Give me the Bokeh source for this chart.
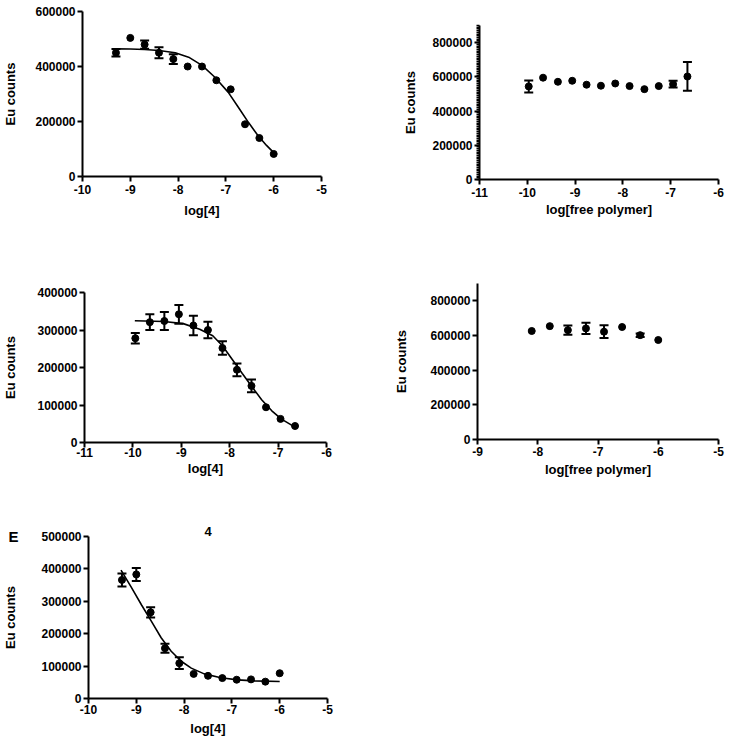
from bokeh.plotting import figure
from bokeh.models import (Range1d, SingleIntervalTicker, ColumnDataSource, Whisker,
                          TeeHead, Title, PrintfTickFormatter)
from bokeh.layouts import column, row
from bokeh.embed import file_html
from bokeh.resources import INLINE

FONT = "Liberation Sans"

# ---------------- data ----------------
# Panel A  (log[4])
a_x = [-9.3, -9.0, -8.7, -8.4, -8.1, -7.8, -7.5, -7.2, -6.9, -6.6, -6.3, -6.0]
a_y = [450000, 504000, 480000, 450000, 427000, 400000, 400000, 350000, 317000, 190000, 140000, 82000]
a_err = [14000, 0, 15000, 20000, 18000, 0, 0, 0, 0, 0, 0, 0]
a_fit_x = [-9.31, -9.0, -8.7, -8.4, -8.06, -7.78, -7.5, -7.23, -6.95, -6.74, -6.53, -6.33, -6.15, -5.99]
a_fit_y = [464000, 463500, 462000, 458000, 450000, 434000, 404000, 361000, 306000, 252000, 197000, 149000, 113000, 85000]

# Panel B  (log[free polymer])
b_x = [-9.97, -9.67, -9.36, -9.06, -8.76, -8.46, -8.16, -7.86, -7.55, -7.25, -6.95, -6.65]
b_y = [544000, 595000, 571000, 577000, 554000, 548000, 561000, 546000, 528000, 546000, 557000, 602000]
b_err = [35000, 0, 0, 0, 0, 0, 0, 0, 0, 0, 20000, 84000]

# Panel C  (log[4])
c_x = [-9.95, -9.65, -9.35, -9.05, -8.75, -8.45, -8.15, -7.85, -7.55, -7.25, -6.95, -6.65]
c_y = [278000, 321000, 324000, 342000, 312000, 300000, 252000, 194000, 151000, 94000, 63000, 44000]
c_err = [14000, 21000, 24000, 25000, 26000, 22000, 18000, 17000, 17000, 0, 0, 0]
c_fit_x = [-9.96, -9.36, -8.96, -8.62, -8.35, -8.15, -7.95, -7.74, -7.54, -7.34, -7.13, -6.93, -6.73, -6.63]
c_fit_y = [324500, 322700, 317000, 302000, 284500, 258000, 222000, 184000, 148500, 114000, 84500, 62400, 47000, 42000]

# Panel D  (log[free polymer])
d_x = [-8.1, -7.8, -7.5, -7.2, -6.9, -6.6, -6.3, -6.0]
d_y = [626000, 654000, 631000, 641000, 622000, 649000, 602000, 574000]
d_err = [0, 0, 26000, 33000, 37000, 0, 10000, 0]

# Panel E  (log[4])
e_x = [-9.3, -9.0, -8.7, -8.4, -8.1, -7.8, -7.5, -7.2, -6.9, -6.6, -6.3, -6.0]
e_y = [366000, 383000, 266000, 155000, 109000, 76000, 70000, 63000, 58000, 59000, 52000, 78000]
e_err = [20000, 20000, 16000, 14000, 18000, 0, 0, 0, 0, 0, 0, 0]
e_fit_x = [-9.32, -9.10, -8.89, -8.68, -8.48, -8.27, -8.06, -7.85, -7.58, -7.23, -6.88, -6.53, -6.0]
e_fit_y = [396000, 342000, 288600, 237000, 187500, 146000, 115000, 93700, 76000, 64000, 57500, 54500, 52600]

y_label = "Eu counts"
x_label_4 = "log[4]"
x_label_poly = "log[free polymer]"
panel_letter = "E"
panel_title = "4"


def panel(w, h, xr, yr, ytick, borders, xlabel, xs, ys, errs,
          fit_x=None, fit_y=None, minor=0, y_std=10, x_std=3, x_lstd=6):
    bl, br, bt, bb = borders
    p = figure(width=w, height=h, x_range=Range1d(*xr), y_range=Range1d(*yr),
               output_backend="svg", toolbar_location=None,
               min_border_left=bl, min_border_right=br,
               min_border_top=bt, min_border_bottom=bb)
    p.outline_line_color = None
    p.xgrid.visible = False
    p.ygrid.visible = False
    p.xaxis.ticker = SingleIntervalTicker(interval=1, num_minor_ticks=0)
    p.yaxis.ticker = SingleIntervalTicker(interval=ytick, num_minor_ticks=minor if minor else 0)
    p.xaxis.formatter = PrintfTickFormatter(format="%d")
    p.yaxis.formatter = PrintfTickFormatter(format="%d")
    for ax in (p.xaxis[0], p.yaxis[0]):
        ax.axis_line_width = 2
        ax.axis_line_color = "black"
        ax.major_tick_line_width = 2
        ax.major_tick_line_color = "black"
        ax.major_tick_out = 5
        ax.major_tick_in = 0
        ax.major_label_text_font = FONT
        ax.major_label_text_font_style = "bold"
        ax.major_label_text_font_size = "12px"
        ax.major_label_text_color = "black"
        ax.axis_label_text_font = FONT
        ax.axis_label_text_font_style = "bold"
        ax.axis_label_text_font_size = "13px"
        ax.axis_label_text_color = "black"
    p.xaxis.minor_tick_line_color = None
    if minor:
        p.yaxis.minor_tick_line_color = "black"
        p.yaxis.minor_tick_line_width = 1.5
        p.yaxis.minor_tick_out = 3
        p.yaxis.minor_tick_in = 0
    else:
        p.yaxis.minor_tick_line_color = None
    p.yaxis.major_label_standoff = 2
    p.yaxis.axis_label_standoff = y_std
    p.xaxis.major_label_standoff = x_std
    p.xaxis.axis_label_standoff = x_lstd
    p.xaxis.axis_label = xlabel
    p.yaxis.axis_label = y_label

    if fit_x is not None:
        p.line(fit_x, fit_y, line_color="black", line_width=1.6)

    ex = [x for x, e in zip(xs, errs) if e > 0]
    eu = [y + e for y, e in zip(ys, errs) if e > 0]
    el = [y - e for y, e in zip(ys, errs) if e > 0]
    if ex:
        src = ColumnDataSource(dict(x=ex, upper=eu, lower=el))
        wh = Whisker(source=src, base="x", upper="upper", lower="lower",
                     line_width=2, line_color="black",
                     upper_head=TeeHead(size=9, line_width=2, line_color="black"),
                     lower_head=TeeHead(size=9, line_width=2, line_color="black"))
        p.add_layout(wh)
    p.scatter(xs, ys, marker="circle", size=7, fill_color="black", line_color="black")
    return p


pA = panel(360, 245, (-10, -5), (0, 600000), 200000, (80, 39, 11, 69), x_label_4,
           a_x, a_y, a_err, a_fit_x, a_fit_y, y_std=14, x_std=3, x_lstd=6)
pB = panel(369, 245, (-11, -6), (0, 900000), 200000, (119, 11, 25, 66), x_label_poly,
           b_x, b_y, b_err, minor=20, y_std=11, x_std=3, x_lstd=2)
pC = panel(360, 245, (-11, -6), (0, 400000), 100000, (79, 34, 47, 48), x_label_4,
           c_x, c_y, c_err, c_fit_x, c_fit_y, y_std=16, x_std=0, x_lstd=1)
pD = panel(369, 245, (-9, -5), (0, 900000), 200000, (117, 11, 38, 51), x_label_poly,
           d_x, d_y, d_err, y_std=18, x_std=2, x_lstd=3)
pE = panel(360, 251, (-10, -5), (0, 500000), 100000, (86, 33, 46, 43), x_label_4,
           e_x, e_y, e_err, e_fit_x, e_fit_y, y_std=20, x_std=1, x_lstd=4)

pE.title.text = panel_title
pE.title.align = "center"
pE.title.text_font = FONT
pE.title.text_font_style = "bold"
pE.title.text_font_size = "13px"
pE.title.text_color = "black"
pE.title.standoff = -4
pE.add_layout(Title(text=panel_letter, align="left", offset=-80, standoff=-16,
                    text_font=FONT, text_font_style="bold", text_font_size="15px",
                    text_color="black"), "above")

layout = column(row(column(pA), column(pB)),
                row(column(pC), column(pD)),
                row(column(pE)))

open("out.html", "w").write(file_html(layout, INLINE))
